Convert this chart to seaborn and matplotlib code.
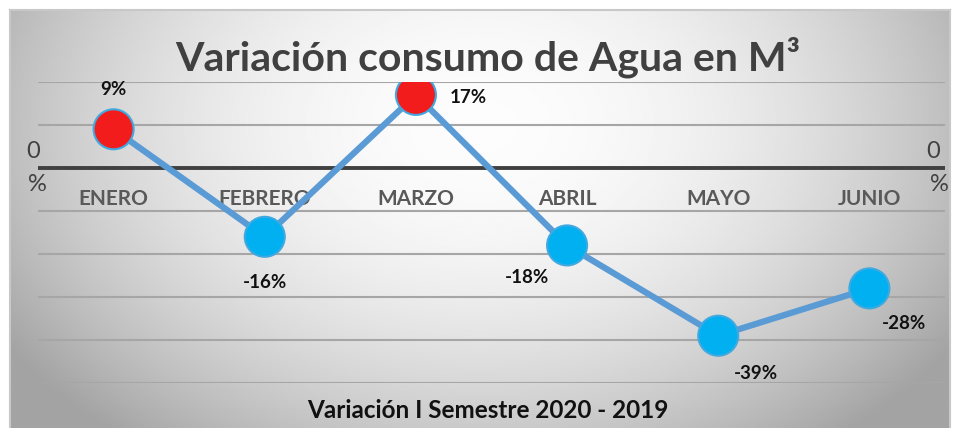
import numpy as np
import pandas as pd
import matplotlib
matplotlib.use("Agg")
import matplotlib.pyplot as plt
import seaborn as sns

# datos
meses = ["ENERO", "FEBRERO", "MARZO", "ABRIL", "MAYO", "JUNIO"]
variacion = [9, -16, 17, -18, -39, -28]
etiquetas = ["9%", "-16%", "17%", "-18%", "-39%", "-28%"]
# posicion de cada etiqueta respecto al punto (pixeles)
offsets = [(0, 40), (0, -46), (52, -3), (-40, -32), (38, -38), (35, -35)]

titulo = "Variación consumo de Agua en M³"
eje_x = "Variación I Semestre 2020 - 2019"

sns.set_style("white")
plt.rcParams["font.family"] = ["Lato", "DejaVu Sans"]

df = pd.DataFrame({"mes": meses, "pos": range(len(meses)), "valor": variacion})
df["signo"] = np.where(df["valor"] >= 0, "pos", "neg")

fig = plt.figure(figsize=(9.59, 4.28), dpi=100)
fig.patch.set_facecolor("white")

# fondo con degradado
bg = fig.add_axes([10 / 959, 0, 940 / 959, 418 / 428])
xx, yy = np.meshgrid(np.linspace(-1, 1, 400), np.linspace(-1, 1, 200))
r = np.sqrt((xx / 1.0) ** 2 + ((yy + 0.45) / 1.6) ** 2)
shade = 0.99 - 0.24 * np.clip(r, 0, 1.2) ** 2
bg.imshow(shade, cmap="gray", vmin=0, vmax=1, aspect="auto", extent=[0, 1, 0, 1])
bg.set_xticks([])
bg.set_yticks([])
for s in bg.spines.values():
    s.set_color("#c8c8c8")
    s.set_linewidth(1.5)
bg.spines["bottom"].set_visible(False)

ax = fig.add_axes([38 / 959, 45 / 428, 907 / 959, 301 / 428])
ax.patch.set_alpha(0)
ax.set_xlim(-0.5, len(meses) - 0.5)
ax.set_ylim(-50, 20)

for y in range(-50, 21, 10):
    if y == 0:
        ax.axhline(y, color="#404040", lw=2.8, zorder=1)
    else:
        ax.axhline(y, color="#a6a6a6", lw=1.5, zorder=1)

sns.lineplot(data=df, x="pos", y="valor", color="#5b9bd5", lw=4.5, ax=ax, zorder=2)
sns.scatterplot(data=df, x="pos", y="valor", hue="signo",
                palette={"pos": "#f21c1c", "neg": "#00b0f0"},
                s=830, edgecolor="#3fa9e0", linewidth=1.5, legend=False,
                ax=ax, zorder=3)

for i, (v, lab, off) in enumerate(zip(variacion, etiquetas, offsets)):
    ax.annotate(lab, (i, v), xytext=off, textcoords="offset pixels",
                ha="center", va="center", fontsize=13.5, fontweight="bold",
                color="#111111", zorder=4)

for i, m in enumerate(meses):
    ax.text(i, -7.3, m, ha="center", va="center", fontsize=15,
            fontweight="bold", color="#595959", zorder=1.5)

ax.set_xticks([])
ax.set_yticks([])
ax.set_xlabel("")
ax.set_ylabel("")
sns.despine(ax=ax, left=True, bottom=True)

# etiqueta 0 % a ambos lados
for xf, dx in [(33 / 959, 0), (933 / 959, 2)]:
    fig.text(xf, (428 - 152) / 428, "0", ha="center", va="center",
             fontsize=17, color="#404040")
    fig.text(xf + (4 + dx) / 959, (428 - 185) / 428, "%", ha="center",
             va="center", fontsize=17, color="#404040")

fig.text(488 / 959, (428 - 57) / 428, titulo, ha="center", va="center",
         fontsize=29.5, fontweight="bold", color="#404040")
fig.text(488 / 959, (428 - 411) / 428, eje_x, ha="center", va="center",
         fontsize=17.5, fontweight="bold", color="#111111")

fig.savefig("out.png", dpi=100)
